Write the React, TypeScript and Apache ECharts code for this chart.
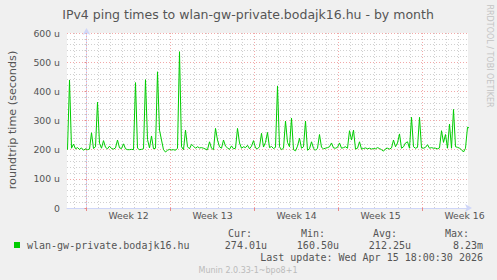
import { useEffect, useRef } from "react";
import * as echarts from "echarts";

const chartTitle = "IPv4 ping times to wlan-gw-private.bodajk16.hu - by month";
const yAxisTitle = "roundtrip time (seconds)";
const seriesName = "wlan-gw-private.bodajk16.hu";
const weekLabels = ["Week 12", "Week 13", "Week 14", "Week 15", "Week 16"];
const weekStartHours = [0, 168, 336, 504, 672];
const weekLabelHours = [84, 252, 420, 588, 756];
const xMinHour = -39;
const xMaxHour = 763;
const startHour = -38;
const stepHours = 4;
// ping round-trip, microseconds, one sample per 4 hours
const pingMicros = [
  200, 439, 205, 219, 203, 207, 201, 206, 198, 203,
  200, 202, 258, 204, 210, 363, 222, 205, 231, 208,
  203, 212, 204, 202, 206, 233, 206, 204, 220, 203,
  200, 200, 201, 200, 430, 205, 200, 201, 203, 440,
  235, 206, 247, 203, 205, 467, 267, 233, 200, 192,
  198, 201, 199, 200, 198, 205, 536, 210, 200, 267,
  210, 203, 218, 212, 205, 210, 206, 207, 205, 202,
  200, 227, 205, 200, 273, 233, 210, 205, 233, 212,
  206, 201, 213, 203, 205, 273, 223, 205, 210, 207,
  215, 203, 212, 231, 206, 203, 210, 256, 209, 225,
  259, 207, 211, 204, 208, 418, 210, 200, 205, 298,
  225, 210, 308, 200, 196, 212, 239, 205, 210, 298,
  198, 203, 227, 205, 198, 205, 252, 208, 203, 205,
  207, 210, 223, 206, 205, 208, 223, 205, 207, 210,
  205, 265, 233, 267, 202, 205, 227, 202, 204, 206,
  203, 205, 202, 204, 203, 207, 204, 200, 195, 203,
  205, 202, 206, 233, 210, 223, 254, 205, 210, 223,
  227, 205, 311, 210, 205, 208, 311, 206, 205, 208,
  217, 205, 207, 205, 205, 203, 206, 265, 225, 252,
  205, 288, 205, 338, 210, 208, 205, 200, 192, 205,
  277, 274,
];
const statLabels = ["Cur:", "Min:", "Avg:", "Max:"];
const statValues = ["274.01u", "160.50u", "212.25u", "8.23m"];
const lastUpdate = "Last update: Wed Apr 15 18:00:30 2026";
const footer = "Munin 2.0.33-1~bpo8+1";
const watermark = "RRDTOOL / TOBI OETIKER";

const GREEN = "#00cc00";
const FONT_COLOR = "#555555";
const AXIS_COLOR = "#CFD6F8";
const MAJOR_GRID = "#f2a8a8";
const MINOR_GRID = "#d0d0d0";

function txt(
  text: string,
  x: number,
  y: number,
  font: string,
  align: string,
  fill = FONT_COLOR,
  rotation = 0
) {
  return {
    type: "text",
    x,
    y,
    rotation,
    silent: true,
    style: {
      text,
      font,
      fill,
      align,
      verticalAlign: "middle",
      textAlign: align,
      textVerticalAlign: "middle",
    },
  };
}

export default function App() {
  const ref = useRef<HTMLDivElement>(null);

  useEffect(() => {
    if (!ref.current) return;
    const chart = echarts.init(ref.current, undefined, { renderer: "svg" });

    const dayLines: any[] = [];
    for (let d = -1; d <= 31; d++) {
      const h = d * 24;
      if (h < xMinHour || h > xMaxHour) continue;
      const major = weekStartHours.indexOf(h) >= 0;
      dayLines.push({
        xAxis: h,
        lineStyle: { color: major ? MAJOR_GRID : MINOR_GRID, type: [1, 2], width: 1 },
      });
    }

    const sans = "DejaVu Sans";
    const mono = "DejaVu Sans Mono";
    const monoFont = `10px "${mono}"`;
    const statLabelRight = [252, 325, 397, 469];
    const statValueRight = [267, 339, 411, 483];

    const graphics: any[] = [
      txt(chartTitle, 248, 14, `12.5px "${sans}"`, "center"),
      txt(yAxisTitle, 12, 120, `11.2px "${sans}"`, "center", FONT_COLOR, Math.PI / 2),
      txt(watermark, 489, 56, `8px "${sans}"`, "center", "#c4c4c4", -Math.PI / 2),
      {
        type: "rect",
        shape: { x: 14, y: 242, width: 6, height: 6 },
        style: { fill: GREEN },
        silent: true,
      },
      txt(seriesName, 27, 245.5, monoFont, "left"),
      ...statLabels.map((s, i) => txt(s, statLabelRight[i], 233.5, monoFont, "right")),
      ...statValues.map((s, i) => txt(s, statValueRight[i], 245.5, monoFont, "right")),
      txt(lastUpdate, 483, 257.5, monoFont, "right"),
      txt(footer, 248, 270, `8px "${sans}"`, "center", "#bbbbbb"),
    ];

    chart.setOption({
      animation: false,
      backgroundColor: "#F0F0F0",
      grid: {
        left: 67,
        top: 33,
        right: 29,
        bottom: 72,
        show: true,
        backgroundColor: "#FFFFFF",
        borderWidth: 0,
        containLabel: false,
        outerBoundsMode: "none",
      },
      xAxis: {
        type: "value",
        min: xMinHour,
        max: xMaxHour,
        axisLine: {
          show: true,
          onZero: false,
          lineStyle: { color: AXIS_COLOR, width: 1 },
          symbol: ["none", "arrow"],
          symbolSize: [6, 7],
          symbolOffset: [0, 4],
        },
        axisTick: {
          show: true,
          customValues: weekStartHours,
          length: 3,
          lineStyle: { color: "#e88a8a" },
        },
        axisLabel: {
          customValues: weekLabelHours,
          formatter: (v: number) => {
            const idx = weekLabelHours.indexOf(Math.round(v));
            return idx >= 0 ? weekLabels[idx] : "";
          },
          color: FONT_COLOR,
          fontFamily: sans,
          fontSize: 9.3,
          margin: 3,
          showMinLabel: true,
          showMaxLabel: true,
        },
        splitLine: { show: false },
      },
      yAxis: {
        type: "value",
        min: 0,
        max: 600,
        interval: 100,
        axisLine: {
          show: true,
          lineStyle: { color: AXIS_COLOR, width: 1 },
          symbol: ["none", "arrow"],
          symbolSize: [6, 7],
          symbolOffset: [0, 5],
        },
        axisTick: { show: true, length: 2, lineStyle: { color: "#e88a8a" } },
        minorTick: { show: true, splitNumber: 5, length: 2, lineStyle: { color: "#c8c8c8" } },
        splitLine: { show: true, lineStyle: { color: MAJOR_GRID, type: [1, 2] } },
        minorSplitLine: { show: true, lineStyle: { color: MINOR_GRID, type: [1, 2] } },
        axisLabel: {
          color: FONT_COLOR,
          fontFamily: sans,
          fontSize: 9.3,
          margin: 7,
          formatter: (v: number) => (v === 0 ? "0" : `${v} u`),
        },
      },
      series: [
        {
          type: "line",
          name: seriesName,
          data: pingMicros.map((v, i) => [startHour + i * stepHours, v]),
          showSymbol: false,
          symbol: "none",
          lineStyle: { color: GREEN, width: 1 },
          itemStyle: { color: GREEN },
          z: 3,
          markLine: {
            silent: true,
            symbol: ["none", "none"],
            label: { show: false },
            animation: false,
            z: 1,
            data: dayLines,
          },
        },
      ],
      graphic: graphics,
    });

    return () => chart.dispose();
  }, []);

  return (
    <div
      ref={ref}
      style={{ position: "absolute", left: 0, top: 0, width: 497, height: 280 }}
    />
  );
}
